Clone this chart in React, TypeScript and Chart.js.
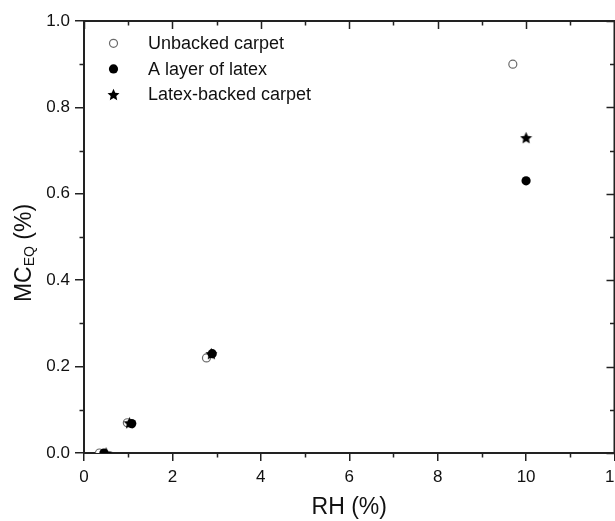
import React, { useEffect, useRef } from 'react';
import { Chart, registerables } from 'chart.js';

Chart.register(...registerables);

const FONT = "'Liberation Sans', Arial, Helvetica, sans-serif";
const INK = '#111111';
const AXIS = '#222222';

// ---- data ----
const seriesNames = ['Unbacked carpet', 'A layer of latex', 'Latex-backed carpet'];
const unbackedRH = [0.35, 0.98, 2.77, 9.7];
const unbackedMC = [0.0, 0.07, 0.22, 0.9];
const latexRH = [0.45, 1.08, 2.9, 10.0];
const latexMC = [0.0, 0.068, 0.23, 0.63];
const backedRH = [0.5, 1.03, 2.88, 10.0];
const backedMC = [0.0, 0.07, 0.23, 0.73];

const xTitle = 'RH (%)';
const yTitleMain = 'MC';
const yTitleSub = 'EQ';
const yTitleTail = ' (%)';
const xRange = [0, 12];
const yRange = [0, 1];
const xStep = 2;
const yStep = 0.2;

const toPoints = (xs: number[], ys: number[]) => xs.map((x, i) => ({ x, y: ys[i] }));

function makeStar(size: number): HTMLCanvasElement {
  const c = document.createElement('canvas');
  c.width = size;
  c.height = size;
  const g = c.getContext('2d')!;
  const cx = size / 2;
  const cy = size / 2 + 0.6;
  const ro = size / 2 - 0.2;
  const ri = ro * 0.47;
  g.beginPath();
  for (let i = 0; i < 10; i++) {
    const r = i % 2 === 0 ? ro : ri;
    const a = -Math.PI / 2 + (i * Math.PI) / 5;
    const px = cx + r * Math.cos(a);
    const py = cy + r * Math.sin(a);
    if (i === 0) g.moveTo(px, py);
    else g.lineTo(px, py);
  }
  g.closePath();
  g.fillStyle = '#000';
  g.fill();
  return c;
}

export default function App() {
  const ref = useRef<HTMLCanvasElement>(null);

  useEffect(() => {
    if (!ref.current) return;
    const star = makeStar(13);

    const framePlugin = {
      id: 'framePlugin',
      afterDraw(chart: any) {
        const { ctx, chartArea } = chart;
        const { left, right, top, bottom } = chartArea;
        const xs = chart.scales.x;
        const ys = chart.scales.y;
        ctx.save();
        // top & right frame
        ctx.strokeStyle = AXIS;
        ctx.lineWidth = 2;
        ctx.beginPath();
        ctx.moveTo(left - 1, top);
        ctx.lineTo(right, top);
        ctx.lineTo(right, bottom + 1);
        ctx.stroke();

        ctx.lineWidth = 1.5;
        const xMajor = xs.ticks.map((t: any) => t.value);
        const yMajor = ys.ticks.map((t: any) => t.value);
        const xMinor: number[] = [];
        for (let i = 0; i < xMajor.length - 1; i++) xMinor.push((xMajor[i] + xMajor[i + 1]) / 2);
        const yMinor: number[] = [];
        for (let i = 0; i < yMajor.length - 1; i++) yMinor.push((yMajor[i] + yMajor[i + 1]) / 2);

        ctx.beginPath();
        xMajor.forEach((v: number) => {
          const p = Math.round(xs.getPixelForValue(v)) + 0.5;
          ctx.moveTo(p, top);
          ctx.lineTo(p, top + 8);
        });
        xMinor.forEach((v) => {
          const p = Math.round(xs.getPixelForValue(v)) + 0.5;
          ctx.moveTo(p, bottom);
          ctx.lineTo(p, bottom + 4.5);
          ctx.moveTo(p, top);
          ctx.lineTo(p, top + 4.5);
        });
        yMajor.forEach((v: number) => {
          const p = Math.round(ys.getPixelForValue(v)) + 0.5;
          ctx.moveTo(right, p);
          ctx.lineTo(right - 8, p);
        });
        yMinor.forEach((v) => {
          const p = Math.round(ys.getPixelForValue(v)) + 0.5;
          ctx.moveTo(left, p);
          ctx.lineTo(left - 4.5, p);
          ctx.moveTo(right, p);
          ctx.lineTo(right - 4.5, p);
        });
        ctx.stroke();

        // y title with subscript
        ctx.fillStyle = INK;
        ctx.textBaseline = 'alphabetic';
        ctx.textAlign = 'left';
        const bigFont = `23px ${FONT}`;
        const subFont = `14px ${FONT}`;
        ctx.font = bigFont;
        const w1 = ctx.measureText(yTitleMain).width;
        const w3 = ctx.measureText(yTitleTail).width;
        ctx.font = subFont;
        const w2 = ctx.measureText(yTitleSub).width;
        const total = w1 + w2 + w3;
        const yc = (top + bottom) / 2 + 16;
        ctx.translate(30.5, yc + total / 2);
        ctx.rotate(-Math.PI / 2);
        ctx.font = bigFont;
        ctx.fillText(yTitleMain, 0, 0);
        ctx.font = subFont;
        ctx.fillText(yTitleSub, w1, 3);
        ctx.font = bigFont;
        ctx.fillText(yTitleTail, w1 + w2, 0);
        ctx.restore();

        // legend
        ctx.save();
        ctx.font = `18px ${FONT}`;
        ctx.fillStyle = INK;
        ctx.textBaseline = 'middle';
        ctx.textAlign = 'left';
        const mx = left + 29.5;
        const tx = left + 64;
        chart.data.datasets.forEach((ds: any, i: number) => {
          const cy = top + 22.3 + i * 25.6;
          if (ds.pointStyle === 'circle') {
            ctx.beginPath();
            ctx.arc(mx, cy, ds.pointRadius, 0, Math.PI * 2);
            ctx.fillStyle = ds.pointBackgroundColor;
            ctx.fill();
            if (ds.pointBorderWidth > 0) {
              ctx.lineWidth = ds.pointBorderWidth;
              ctx.strokeStyle = ds.pointBorderColor;
              ctx.stroke();
            }
          } else {
            const img = ds.pointStyle as HTMLCanvasElement;
            ctx.drawImage(img, mx - img.width / 2, cy - img.height / 2);
          }
          ctx.fillStyle = INK;
          ctx.fillText(ds.label, tx, cy + 1);
        });
        ctx.restore();
      },
    };

    const tickFont = { family: FONT, size: 17 };

    const chart = new Chart(ref.current, {
      type: 'scatter',
      data: {
        datasets: [
          {
            label: seriesNames[0],
            data: toPoints(unbackedRH, unbackedMC),
            pointStyle: 'circle',
            pointRadius: 4,
            pointBackgroundColor: '#ffffff',
            pointBorderColor: '#6a6a6a',
            pointBorderWidth: 1.2,
            order: 3,
            clip: 0,
          } as any,
          {
            label: seriesNames[1],
            data: toPoints(latexRH, latexMC),
            pointStyle: 'circle',
            pointRadius: 4.6,
            pointBackgroundColor: '#000000',
            pointBorderColor: '#000000',
            pointBorderWidth: 0,
            order: 2,
            clip: 0,
          } as any,
          {
            label: seriesNames[2],
            data: toPoints(backedRH, backedMC),
            pointStyle: star,
            pointRadius: 6,
            pointBackgroundColor: '#000000',
            pointBorderColor: '#000000',
            order: 1,
            clip: 0,
          } as any,
        ],
      },
      options: {
        responsive: false,
        animation: false,
        devicePixelRatio: 1,
        events: [],
        layout: { padding: { left: 0, right: 35.5, top: 21, bottom: 0 } },
        plugins: {
          legend: { display: false },
          tooltip: { enabled: false },
        },
        scales: {
          x: {
            type: 'linear',
            position: 'bottom',
            min: xRange[0],
            max: xRange[1],
            afterFit: (s: any) => {
              s.height = 68;
            },
            ticks: {
              stepSize: xStep,
              font: tickFont,
              color: INK,
              padding: 6,
              maxRotation: 0,
              autoSkip: false,
            },
            grid: {
              drawOnChartArea: false,
              drawTicks: true,
              tickLength: 8,
              color: AXIS,
              lineWidth: 1.5,
            },
            border: { color: AXIS, width: 2 },
            title: {
              display: true,
              text: xTitle,
              color: INK,
              font: { family: FONT, size: 23 },
              padding: { top: 0, bottom: 0 },
            },
          },
          y: {
            type: 'linear',
            min: yRange[0],
            max: yRange[1],
            afterFit: (s: any) => {
              s.width = 84;
            },
            ticks: {
              stepSize: yStep,
              font: tickFont,
              color: INK,
              padding: 5,
              autoSkip: false,
              callback: (v: any) => Number(v).toFixed(1),
            },
            grid: {
              drawOnChartArea: false,
              drawTicks: true,
              tickLength: 9,
              color: AXIS,
              lineWidth: 1.5,
            },
            border: { color: AXIS, width: 2 },
          },
        },
      } as any,
      plugins: [framePlugin],
    });

    return () => chart.destroy();
  }, []);

  return (
    <div
      style={{
        position: 'fixed',
        left: 0,
        top: 0,
        width: 615,
        height: 521,
        overflow: 'hidden',
        background: '#ffffff',
      }}
    >
      <canvas ref={ref} width={650} height={521} style={{ display: 'block', width: 650, height: 521 }} />
    </div>
  );
}
